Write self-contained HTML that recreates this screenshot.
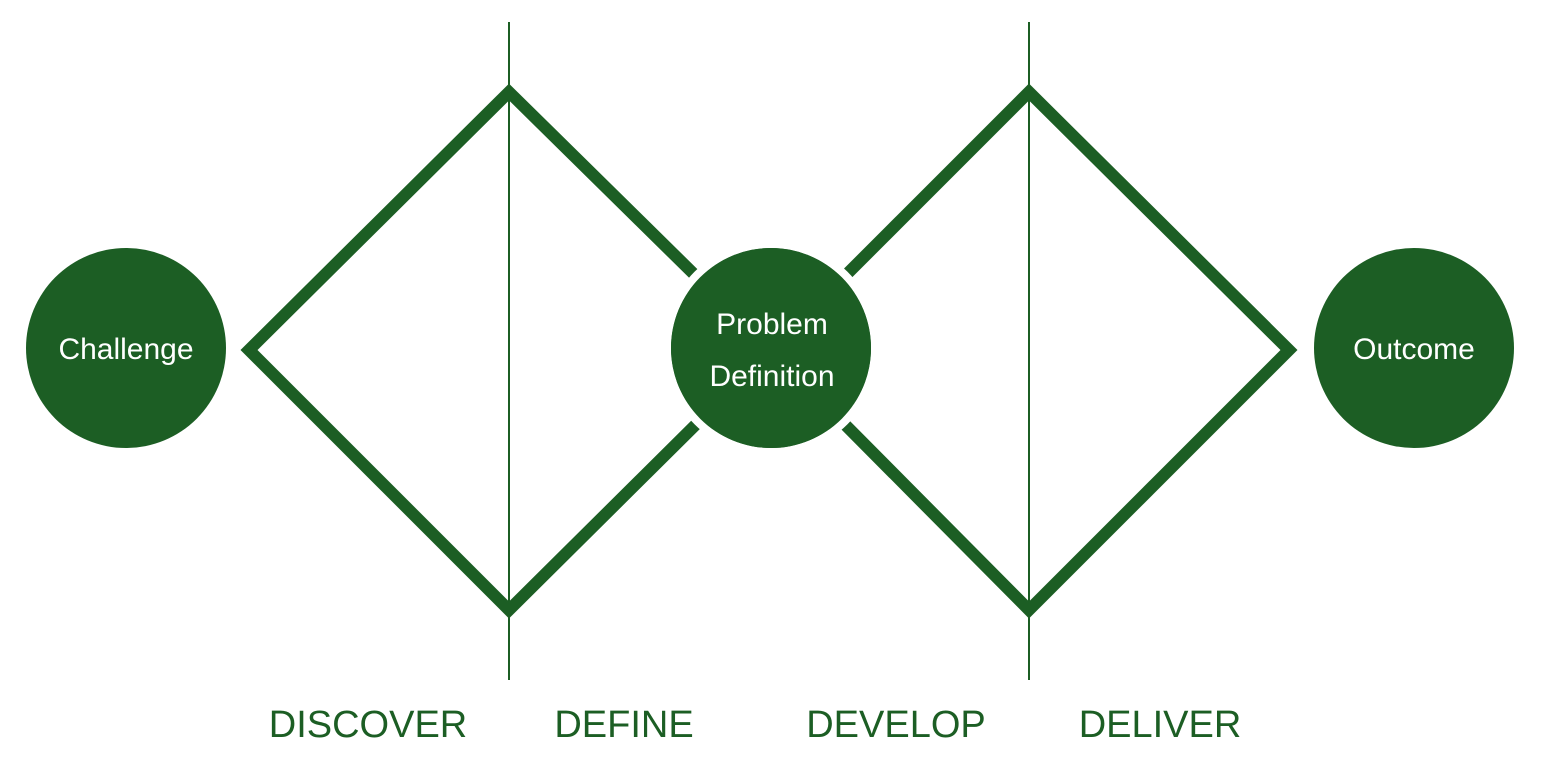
<!DOCTYPE html>
<html><head><style>
html,body{margin:0;padding:0;background:#fff;}
svg{display:block;}
text{font-family:"Liberation Sans",sans-serif;}
</style></head><body>
<svg width="1542" height="776" viewBox="0 0 1542 776" xmlns="http://www.w3.org/2000/svg">
<g stroke="#1c5e24" fill="none">
<line x1="509" y1="22" x2="509" y2="680" stroke-width="2"/>
<line x1="1029" y1="22" x2="1029" y2="680" stroke-width="2"/>
<polygon points="249,350 509,92 771,350 509,610" stroke-width="12" stroke-linejoin="miter"/>
<polygon points="771,350 1029,92 1289,350 1029,610" stroke-width="12" stroke-linejoin="miter"/>
</g>
<g fill="#1c5e24">
<circle cx="126" cy="348" r="100"/>
<circle cx="771" cy="348" r="100" stroke="#fff" stroke-width="16" paint-order="stroke"/>
<circle cx="771" cy="348" r="100"/>
<circle cx="1414" cy="348" r="100"/>
</g>
<g fill="#fff" font-size="30" text-anchor="middle">
<text x="126" y="359">Challenge</text>
<text x="772" y="334">Problem</text>
<text x="772" y="386">Definition</text>
<text x="1414" y="359">Outcome</text>
</g>
<g fill="#1c5e24" font-size="38" text-anchor="middle">
<text x="368" y="737">DISCOVER</text>
<text x="624" y="737">DEFINE</text>
<text x="896" y="737">DEVELOP</text>
<text x="1160" y="737">DELIVER</text>
</g>
</svg>
</body></html>
